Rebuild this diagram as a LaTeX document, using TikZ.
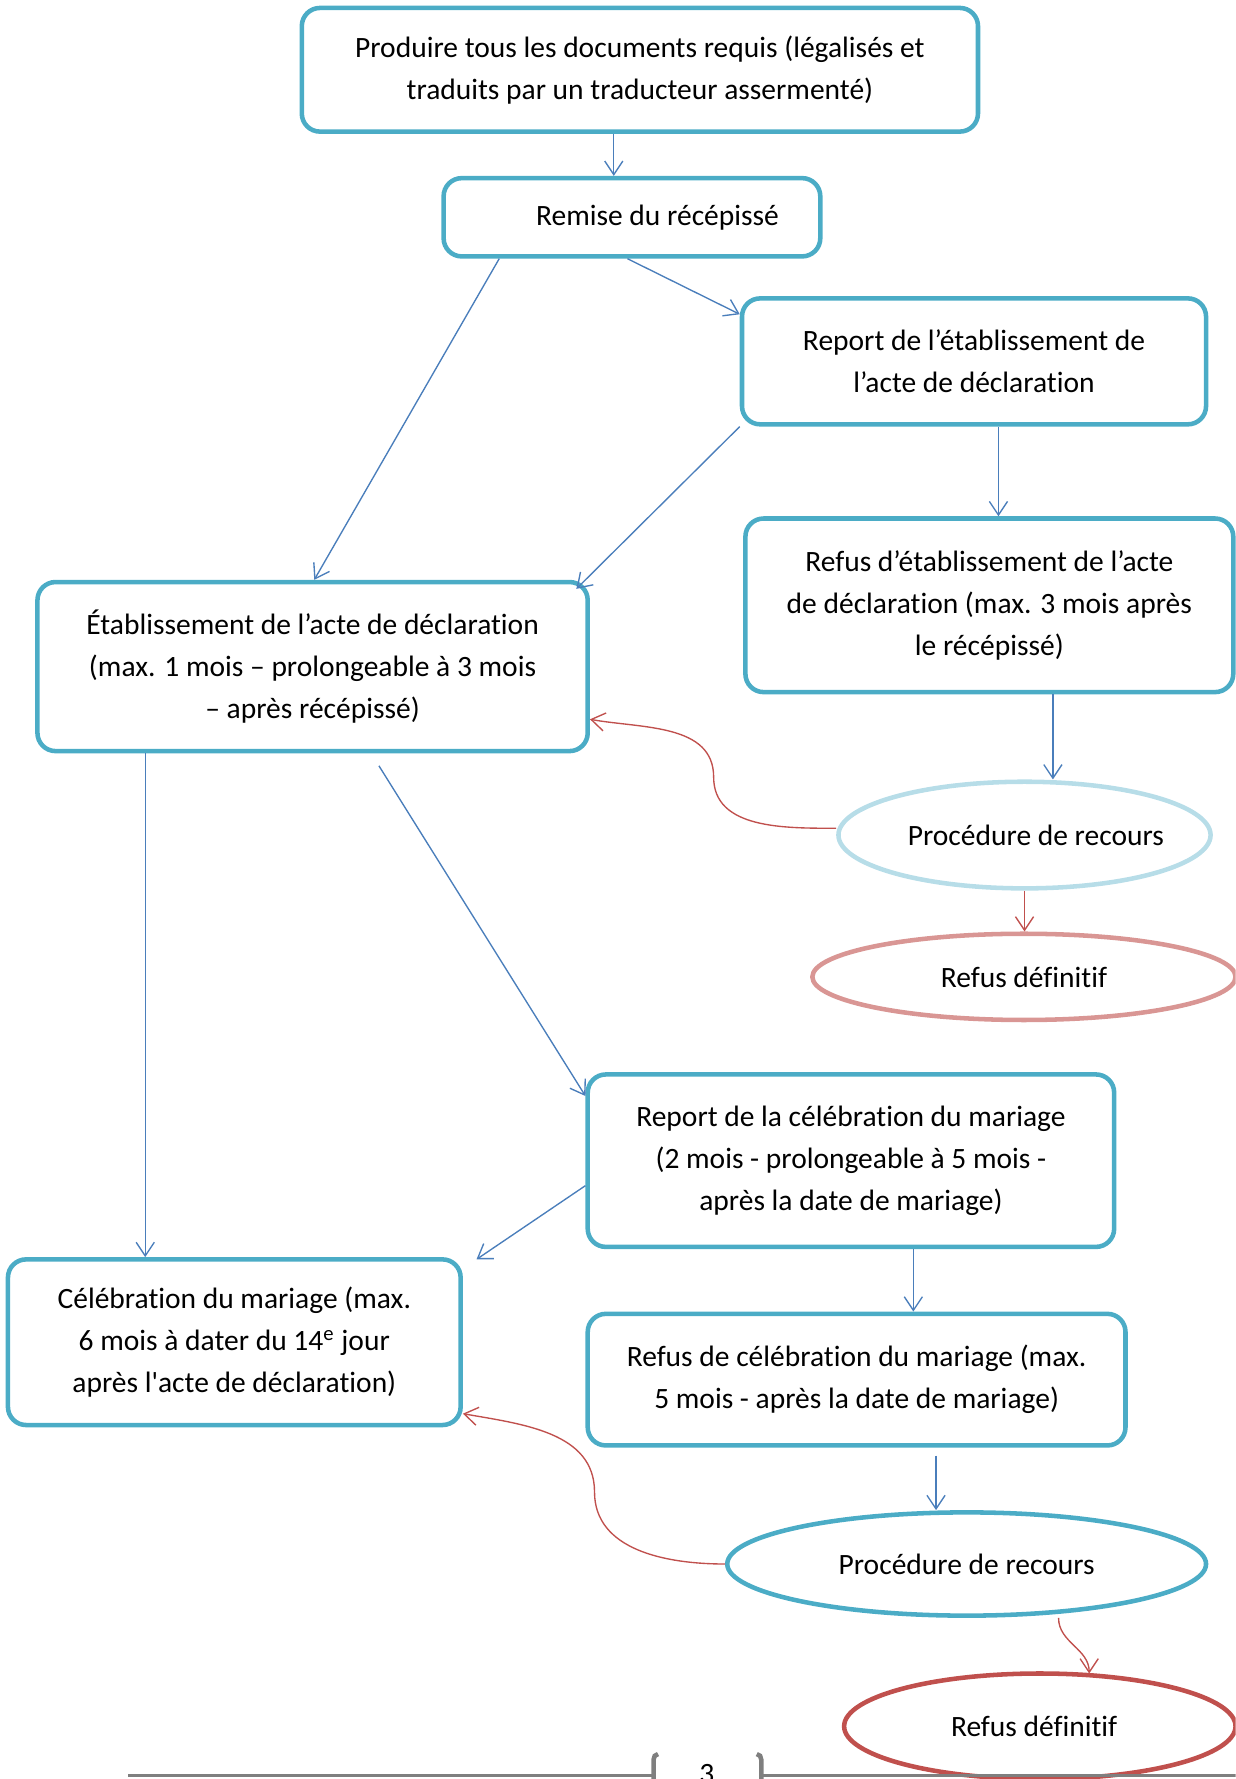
\documentclass[tikz,border=0pt]{standalone}
\usepackage{fontspec}
\setmainfont{Carlito}[Ligatures={TeX,NoCommon}]
\usetikzlibrary{arrows.meta, shapes.geometric}

\definecolor{aqua}{RGB}{75,172,198}
\definecolor{paleaqua}{RGB}{183,221,232}
\definecolor{arrowblue}{RGB}{74,126,187}
\definecolor{darkred}{RGB}{192,80,77}
\definecolor{palered}{RGB}{217,150,148}
\definecolor{footgray}{RGB}{127,127,127}

\begin{document}
\begin{tikzpicture}[x=0.5pt, y=-0.5pt]
  \tikzstyle{box}=[draw=aqua, line width=2pt, rounded corners=8pt, align=center, font=\fontsize{13}{18.5}\selectfont]
  \tikzstyle{oval}=[ellipse, line width=2pt, inner sep=0pt, font=\fontsize{13}{18.5}\selectfont]
  \tikzstyle{flow}=[-{Straight Barb[length=6pt, width=8pt]}, draw=arrowblue, line width=0.6pt]
  \tikzstyle{back}=[-{Straight Barb[length=6pt, width=8pt]}, draw=darkred, line width=0.6pt]

  \useasboundingbox (0,0) rectangle (1089,1568);
  \clip (0,0) rectangle (1089,1568);

  \node[box, minimum width=298pt, minimum height=54.5pt] (A) at (564,61.5) {Produire tous les documents requis (légalisés et\\traduits par un traducteur assermenté)};
  \node[box, minimum width=166pt, minimum height=34.5pt] (B) at (557,191.5) {\hspace*{22.5pt}Remise du récépissé};
  \node[box, minimum width=204.5pt, minimum height=55.5pt] (C) at (858.5,318.5) {Report de l’établissement de\\l’acte de déclaration};
  \node[box, minimum width=215pt, minimum height=76.5pt] (D) at (872,533.5) {Refus d’établissement de l’acte\\de déclaration (max. 3 mois après\\le récépissé)};
  \node[box, minimum width=242.5pt, minimum height=74.5pt] (E) at (275.5,587.5) {Établissement de l’acte de déclaration\\(max. 1 mois – prolongeable à 3 mois\\– après récépissé)};
  \node[oval, draw=paleaqua, minimum width=164pt, minimum height=47pt] (F) at (903,736) {\makebox[0pt]{\hspace*{10pt}Procédure de recours}};
  \node[oval, draw=palered, minimum width=186.5pt, minimum height=38pt] (G) at (902.5,861) {\makebox[0pt]{Refus définitif}};
  \node[box, minimum width=232pt, minimum height=76pt] (H) at (750,1023) {Report de la célébration du mariage\\(2 mois - prolongeable à 5 mois -\\après la date de mariage)};
  \node[box, minimum width=199.5pt, minimum height=73pt] (I) at (206.5,1183) {Célébration du mariage (max.\\6 mois à dater du 14\textsuperscript{e} jour\\après l\textquotesingle acte de déclaration)};
  \node[box, minimum width=237pt, minimum height=58pt] (J) at (755,1216) {Refus de célébration du mariage (max.\\5 mois - après la date de mariage)};
  \node[oval, draw=aqua, minimum width=211pt, minimum height=45.5pt] (K) at (852,1378.5) {\makebox[0pt]{Procédure de recours}};
  \node[oval, draw=darkred, minimum width=172.5pt, minimum height=46.5pt] (L) at (916.5,1521.5) {\makebox[0pt]{\hspace*{-5pt}Refus définitif}};

  \draw[flow] ([xshift=-11.5pt]A.south) -- ([xshift=-8pt]B.north); % A to B
  \draw[flow] ([xshift=-2pt]B.south) -- ([yshift=20.75pt]C.west); % B to C
  \draw[flow] ([xshift=-58.5pt]B.south) -- ([xshift=0.75pt]E.north); % B to E
  \draw[flow] (C.south west) -- ([xshift=-6pt,yshift=-4pt]E.north east); % C to E
  \draw[flow] ([xshift=10.75pt]C.south) -- ([xshift=4pt]D.north); % C to D
  \draw[flow] ([xshift=28pt]D.south) -- ([xshift=12.5pt]F.north); % D to F
  \draw[back] (F.south) -- (F.south |- G.north); % F to G
  \draw[back] ([yshift=3pt]F.west) to[out=180,in=-90] (629,685) to[out=90,in=-10] ([yshift=-23.25pt]E.east); % F back to E
  \draw[flow] ([xshift=29.25pt,yshift=-5.5pt]E.south) -- ([yshift=28.5pt]H.west); % E to H
  \draw[flow] ([xshift=-73.75pt]E.south) -- ([xshift=-39.25pt]I.north); % E to I
  \draw[flow] ([yshift=-11pt]H.west) -- ([xshift=6pt,yshift=-1pt]I.north east); % H to I
  \draw[flow] ([xshift=27.5pt]H.south) -- ([xshift=25pt]J.north); % H to J
  \draw[flow] ([xshift=35pt,yshift=-3.5pt]J.south) -- ([xshift=-13.5pt]K.north); % J to K
  \draw[back] (K.west) to[out=180,in=-90] (524,1315) to[out=90,in=-10] ([yshift=-31.5pt]I.east); % K back to I
  \draw[back] ([xshift=40.5pt]K.south) to[out=-90,in=90] ([xshift=21.75pt,yshift=-1pt]L.north); % K to L

  % page footer
  \draw[footgray, line width=1.5pt] (113,1565) -- (576,1565);
  \draw[footgray, line width=1.5pt] (671,1565) -- (1089,1565);
  \draw[footgray, line width=2pt] (576,1568) -- (576,1551) to[out=90,in=180] (580,1546);
  \draw[footgray, line width=2pt] (671,1568) -- (671,1551) to[out=90,in=0] (667,1546);
  \node[anchor=base, font=\fontsize{13}{15}\selectfont] (pagenum) at (623,1572) {3};
\end{tikzpicture}
\end{document}
